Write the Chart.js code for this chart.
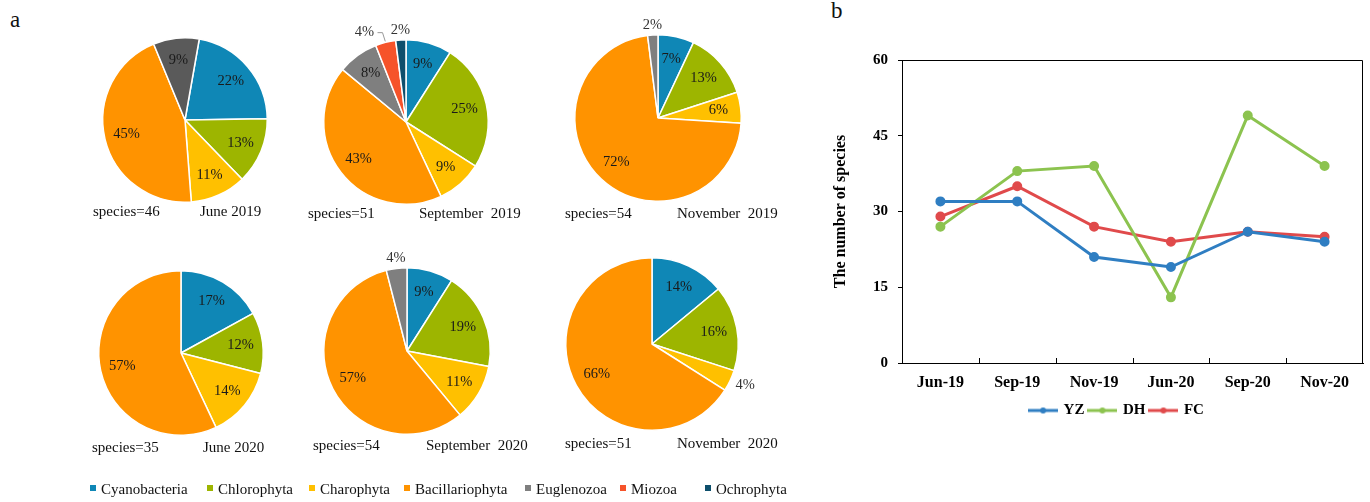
<!DOCTYPE html>
<html>
<head>
<meta charset="utf-8">
<script src="https://cdn.jsdelivr.net/npm/chart.js@4.4.1/dist/chart.umd.min.js"></script>
<style>
  body { margin: 0; width: 1370px; height: 502px; position: relative; overflow: hidden; background: #fff;
         font-family: "Liberation Serif", "Times New Roman", serif; color: #111; }
  .abs { position: absolute; }
  .cap { position: absolute; font-size: 15px; line-height: 18px; white-space: pre; }
  .leg { position: absolute; top: 480px; font-size: 15px; line-height: 18px; white-space: pre; }
  .leg i { display: inline-block; width: 6px; height: 6px; margin-right: 5px; vertical-align: 3px; }
</style>
</head>
<body>
<div class="abs" style="left:10px;top:7px;font-size:23px">a</div>
<div class="abs" style="left:831px;top:-2px;font-size:23px">b</div>
<div id="pies"></div>
<div id="legend"></div>
<canvas id="lineChart" class="abs" style="left:830px;top:40px" width="574" height="390"></canvas>

<script>
// ---- pie data (percent of species per phylum) ----
const groups = ['Cyanobacteria', 'Chlorophyta', 'Charophyta', 'Bacillariophyta', 'Euglenozoa', 'Miozoa', 'Ochrophyta'];
const periods = ['June 2019', 'September  2019', 'November  2019', 'June 2020', 'September  2020', 'November  2020'];
const speciesCounts = [46, 51, 54, 35, 54, 51];
const jun19 = [22, 13, 11, 45, 9, 0, 0];
const sep19 = [9, 25, 9, 43, 8, 4, 2];
const nov19 = [7, 13, 6, 72, 2, 0, 0];
const jun20 = [17, 12, 14, 57, 0, 0, 0];
const sep20 = [9, 19, 11, 57, 4, 0, 0];
const nov20 = [14, 16, 4, 66, 0, 0, 0];

// ---- line data (number of species per site) ----
const months = ['Jun-19', 'Sep-19', 'Nov-19', 'Jun-20', 'Sep-20', 'Nov-20'];
const yz = [32, 32, 21, 19, 26, 24];
const dh = [27, 38, 39, 13, 49, 39];
const fc = [29, 35, 27, 24, 26, 25];
const yTicks = [0, 15, 30, 45, 60];

const groupColors = ['#0f87b6', '#9db500', '#ffc000', '#ff9300', '#7f7f7f', '#f6532a', '#0e4f6c'];
const pieValues = [jun19, sep19, nov19, jun20, sep20, nov20];

// where each pie sits on the page
const pieLayout = [
  { cx: 185, cy: 120, r: 83, rot: 10, capY: 202, spX: 93, dtX: 200, grey: '#5a5a5a' },
  { cx: 406, cy: 122, r: 83, rot: 0, capY: 204, spX: 308, dtX: 419 },
  { cx: 658, cy: 118, r: 84, rot: 0, capY: 204, spX: 565, dtX: 677 },
  { cx: 181, cy: 353, r: 83, rot: 0, capY: 438, spX: 92, dtX: 203 },
  { cx: 407, cy: 351, r: 84, rot: 0, capY: 436, spX: 313, dtX: 426 },
  { cx: 652, cy: 344, r: 87, rot: 0, capY: 434, spX: 565, dtX: 677 }
];
const legendX = [90, 207, 309, 404, 525, 620, 705];

// percentage labels inside the slices, small ones outside
const pctLabels = {
  id: 'pctLabels',
  afterDatasetsDraw(chart) {
    const ctx = chart.ctx;
    const vals = chart.data.datasets[0].data;
    const outside = [];
    ctx.save();
    ctx.font = '14.5px "Liberation Serif", serif';
    ctx.textAlign = 'center';
    ctx.textBaseline = 'middle';
    chart.getDatasetMeta(0).data.forEach((arc, i) => {
      const v = vals[i];
      if (!v) return;
      const p = arc.getProps(['x', 'y', 'startAngle', 'endAngle', 'outerRadius'], true);
      const mid = (p.startAngle + p.endAngle) / 2;
      if (v <= 4) {
        outside.push({ mid, x: p.x, y: p.y, r: p.outerRadius, text: v + '%' });
      } else {
        const rr = p.outerRadius * 0.73;
        ctx.fillStyle = '#1a1a1a';
        ctx.fillText(v + '%', p.x + Math.cos(mid) * rr, p.y + Math.sin(mid) * rr);
      }
    });
    let prevX = null;
    for (let k = outside.length - 1; k >= 0; k--) {
      const o = outside[k];
      const c = Math.cos(o.mid), s = Math.sin(o.mid);
      let lx = o.x + c * (o.r + 4 + 14 * Math.abs(c));
      const ly = o.y + s * (o.r + 10);
      if (prevX !== null && prevX - lx < 34) {
        lx = prevX - 36;
        // leader line to the slice
        ctx.strokeStyle = '#999';
        ctx.lineWidth = 1;
        ctx.beginPath();
        ctx.moveTo(lx + 13, ly);
        ctx.lineTo(lx + 18, ly);
        ctx.lineTo(o.x + c * (o.r + 1), o.y + s * (o.r + 1));
        ctx.stroke();
      }
      ctx.fillStyle = '#333';
      ctx.fillText(o.text, lx, ly);
      prevX = lx;
    }
    ctx.restore();
  }
};

const piesDiv = document.getElementById('pies');
const pad = 26;
pieLayout.forEach((L, n) => {
  const size = 2 * L.r + 2 * pad;
  const cv = document.createElement('canvas');
  cv.width = size;
  cv.height = size;
  cv.className = 'abs';
  cv.style.left = (L.cx - L.r - pad) + 'px';
  cv.style.top = (L.cy - L.r - pad) + 'px';
  piesDiv.appendChild(cv);

  const colors = groupColors.slice();
  if (L.grey) colors[4] = L.grey;

  new Chart(cv, {
    type: 'pie',
    data: {
      labels: groups,
      datasets: [{
        data: pieValues[n],
        backgroundColor: colors,
        borderColor: '#fff',
        borderWidth: 1.5
      }]
    },
    options: {
      responsive: false,
      animation: false,
      events: [],
      rotation: L.rot,
      layout: { padding: pad },
      plugins: { legend: { display: false }, tooltip: { enabled: false } }
    },
    plugins: [pctLabels]
  });

  const sp = document.createElement('div');
  sp.className = 'cap';
  sp.style.left = L.spX + 'px';
  sp.style.top = L.capY + 'px';
  sp.textContent = 'species=' + speciesCounts[n];
  piesDiv.appendChild(sp);

  const dt = document.createElement('div');
  dt.className = 'cap';
  dt.style.left = L.dtX + 'px';
  dt.style.top = L.capY + 'px';
  dt.textContent = periods[n];
  piesDiv.appendChild(dt);
});

// shared legend for the pies
const legDiv = document.getElementById('legend');
groups.forEach((g, i) => {
  const d = document.createElement('div');
  d.className = 'leg';
  d.style.left = legendX[i] + 'px';
  d.innerHTML = '<i style="background:' + groupColors[i] + '"></i>' + g;
  legDiv.appendChild(d);
});

// ---- line chart ----
function lineMarker(color) {
  const c = document.createElement('canvas');
  c.width = 30;
  c.height = 8;
  const g = c.getContext('2d');
  g.strokeStyle = color;
  g.lineWidth = 3;
  g.beginPath();
  g.moveTo(0, 4);
  g.lineTo(30, 4);
  g.stroke();
  g.fillStyle = color;
  g.beginPath();
  g.arc(15, 4, 3, 0, Math.PI * 2);
  g.fill();
  return c;
}

const boxAndTicks = {
  id: 'boxAndTicks',
  afterDraw(chart) {
    const { ctx, chartArea: a } = chart;
    const xs = chart.scales.x;
    ctx.save();
    ctx.strokeStyle = '#000';
    ctx.lineWidth = 1;
    ctx.beginPath();
    ctx.moveTo(a.left, a.top + 0.5);
    ctx.lineTo(a.right - 0.5, a.top + 0.5);
    ctx.lineTo(a.right - 0.5, a.bottom);
    for (let i = 1; i < months.length; i++) {
      const x = Math.round((xs.getPixelForValue(i - 1) + xs.getPixelForValue(i)) / 2) + 0.5;
      ctx.moveTo(x, a.bottom);
      ctx.lineTo(x, a.bottom - 5);
    }
    ctx.stroke();
    ctx.restore();
  }
};

const lineColors = ['#2f7ec2', '#8cc34f', '#e04a4b'];
const serifBold = { family: '"Liberation Serif", "Times New Roman", serif', weight: 'bold' };

new Chart(document.getElementById('lineChart'), {
  type: 'line',
  data: {
    labels: months,
    datasets: [yz, dh, fc].map((vals, i) => ({
      label: ['YZ', 'DH', 'FC'][i],
      data: vals,
      borderColor: lineColors[i],
      backgroundColor: lineColors[i],
      pointBackgroundColor: lineColors[i],
      pointBorderColor: lineColors[i],
      borderWidth: 3,
      pointRadius: 3.5,
      tension: 0
    }))
  },
  options: {
    responsive: false,
    animation: false,
    events: [],
    layout: { padding: { left: 0, right: 0, top: 20, bottom: 2 } },
    scales: {
      x: {
        offset: true,
        grid: { display: false, drawTicks: false },
        border: { display: true, color: '#000', width: 1 },
        ticks: { color: '#000', padding: 10, font: { ...serifBold, size: 16 }, maxRotation: 0 },
        afterFit(s) { s.height = 35; }
      },
      y: {
        min: 0,
        max: 60,
        afterBuildTicks(s) { s.ticks = yTicks.map(v => ({ value: v })); },
        grid: { display: true, drawOnChartArea: false, drawTicks: true, tickLength: 4, color: '#000' },
        border: { display: true, color: '#000', width: 1 },
        ticks: { color: '#000', padding: 10, font: { ...serifBold, size: 15 } },
        title: { display: true, text: 'The number of species', color: '#000', padding: { top: 1, bottom: 0 }, font: { ...serifBold, size: 16 } },
        afterFit(s) { s.width = 72; }
      },
      // empty right-hand spacer so the legend centres where the original does
      spacer: {
        position: 'right',
        min: 0,
        max: 60,
        grid: { display: false, drawTicks: false },
        border: { display: false },
        ticks: { display: false },
        afterFit(s) { s.width = 41; }
      }
    },
    plugins: {
      tooltip: { enabled: false },
      legend: {
        position: 'bottom',
        labels: {
          usePointStyle: true,
          pointStyleWidth: 26,
          padding: 5,
          color: '#000',
          font: { ...serifBold, size: 15 },
          generateLabels(chart) {
            return chart.data.datasets.map((ds, i) => ({
              text: ds.label,
              pointStyle: lineMarker(lineColors[i]),
              fillStyle: lineColors[i],
              strokeStyle: lineColors[i],
              lineWidth: 0,
              hidden: false,
              datasetIndex: i
            }));
          }
        }
      }
    }
  },
  plugins: [boxAndTicks]
});
</script>
</body>
</html>
